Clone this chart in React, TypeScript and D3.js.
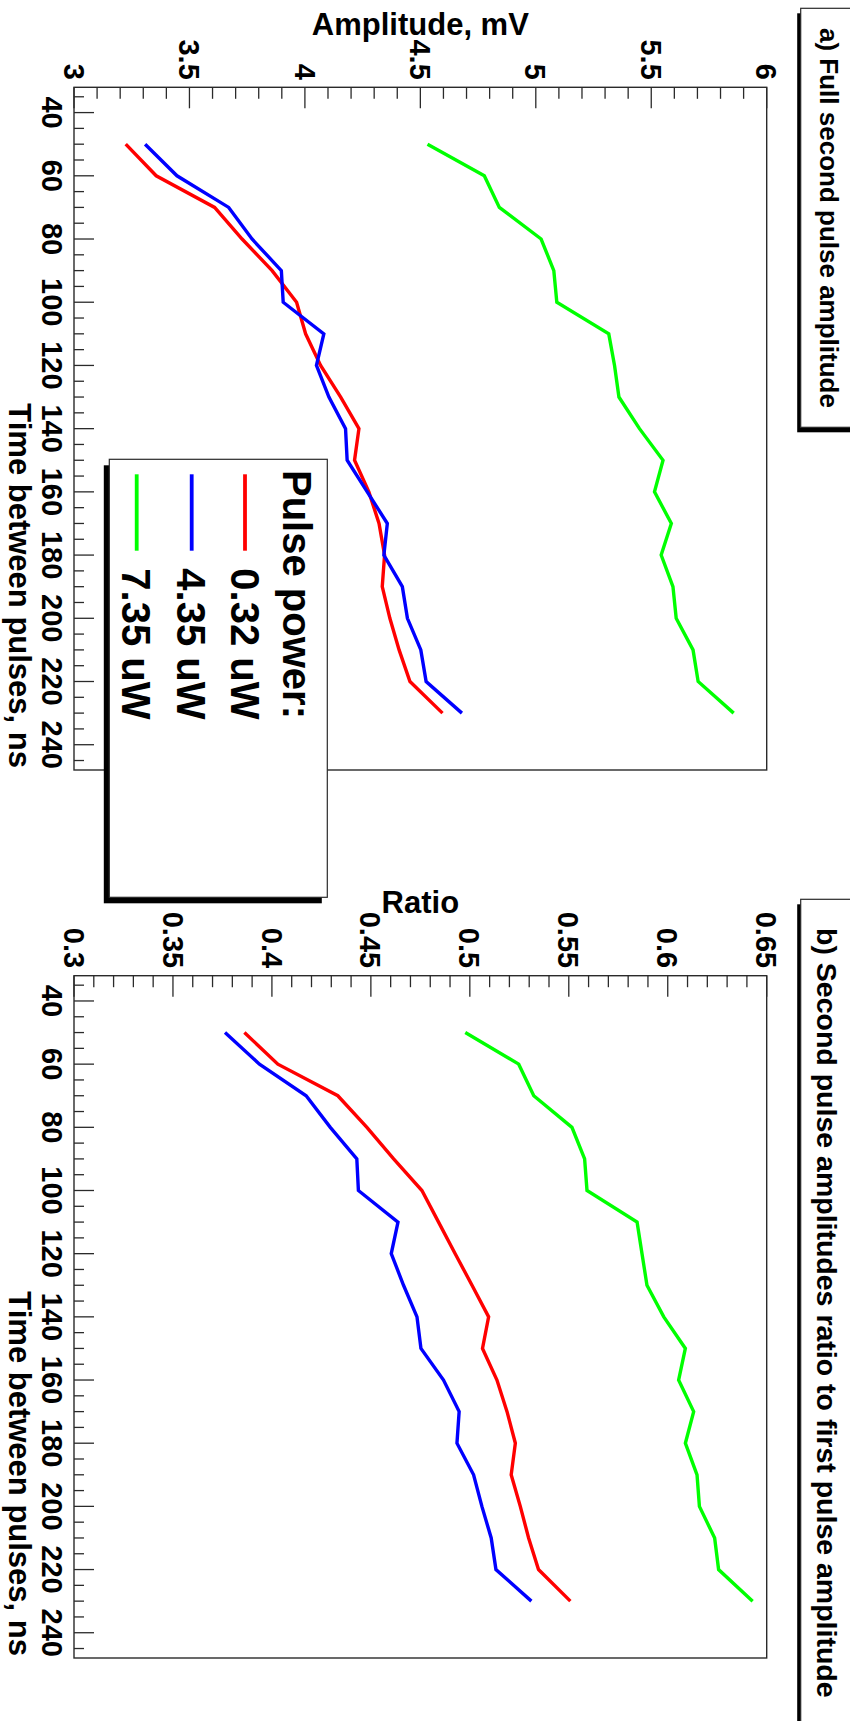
import React from "react";
import * as d3 from "d3";

// Delay between the two pulses, ns
const times = [50, 60, 70, 80, 90, 100, 110, 120, 130, 140, 150, 160, 170, 180, 190, 200, 210, 220, 230];

// a) Full second pulse amplitude, mV
const ampP032 = [3.224, 3.356, 3.609, 3.728, 3.858, 3.964, 4.003, 4.068, 4.155, 4.234, 4.215, 4.277, 4.321, 4.345, 4.335, 4.368, 4.408, 4.455, 4.596];
const ampP435 = [3.308, 3.446, 3.67, 3.771, 3.898, 3.906, 4.082, 4.05, 4.104, 4.176, 4.183, 4.27, 4.357, 4.342, 4.422, 4.444, 4.502, 4.525, 4.68];
const ampP735 = [4.531, 4.777, 4.842, 5.023, 5.078, 5.091, 5.316, 5.341, 5.36, 5.449, 5.551, 5.514, 5.587, 5.543, 5.594, 5.608, 5.681, 5.703, 5.857];

// b) Second-to-first pulse amplitude ratio
const ratioP032 = [0.3861, 0.403, 0.4333, 0.448, 0.4615, 0.4758, 0.4842, 0.4926, 0.5011, 0.5095, 0.5064, 0.5137, 0.5188, 0.523, 0.5209, 0.5255, 0.5297, 0.5347, 0.5508];
const ratioP435 = [0.3763, 0.3937, 0.4173, 0.4295, 0.4429, 0.4437, 0.4637, 0.4603, 0.4665, 0.4733, 0.4753, 0.4867, 0.4946, 0.4935, 0.5019, 0.5061, 0.5108, 0.5132, 0.5311];
const ratioP735 = [0.4977, 0.5247, 0.5323, 0.5516, 0.558, 0.5592, 0.5845, 0.587, 0.5895, 0.598, 0.6089, 0.6055, 0.6131, 0.6089, 0.6148, 0.616, 0.6237, 0.6257, 0.6429];

const powerLabels = ["0.32 uW", "4.35 uW", "7.35 uW"];
const powerColors = ["#ff0000", "#0000ff", "#00ff00"];
const legendHeader = "Pulse power:";

const timeTicks = [40, 60, 80, 100, 120, 140, 160, 180, 200, 220, 240];
const ampTicks = [3, 3.5, 4, 4.5, 5, 5.5, 6];
const ratioTicks = [0.3, 0.35, 0.4, 0.45, 0.5, 0.55, 0.6, 0.65];

const FONT = "'Liberation Sans', Arial, Helvetica, sans-serif";
// Landscape canvas, turned a quarter turn clockwise onto the portrait page
const W = 1721;
const H = 850;
const FRAME_TOP = 83.3;
const FRAME_BOTTOM = 776;
const INK = "#2a2a2a";

type PanelProps = {
  left: number;
  right: number;
  yDomain: [number, number];
  yTicks: number[];
  yMinorStep: number;
  yTitle: string;
  yTitleX: number;
  series: number[][];
  title: string;
  titleBox: [number, number];
  titleX: number;
  titleY: number;
  titleSize: number;
};

function Panel(p: PanelProps) {
  const x = d3.scaleLinear().domain([32, 248]).range([p.left, p.right]);
  const y = d3.scaleLinear().domain(p.yDomain).range([FRAME_BOTTOM, FRAME_TOP]);
  const line = d3
    .line<number>()
    .x((_, i) => x(times[i]))
    .y((v) => y(v));

  const timeMinor = d3.range(35, 246, 5).filter((t) => t % 20 !== 0);
  const yMinor = d3
    .range(p.yDomain[0], p.yDomain[1] + p.yMinorStep / 2, p.yMinorStep)
    .filter((v) => !p.yTicks.some((t) => Math.abs(t - v) < p.yMinorStep / 10));

  const [bx0, bx1] = p.titleBox;

  return (
    <g>
      {/* title box with shadow */}
      <rect x={bx0 + 5} y={-30} width={bx1 - bx0} height={49.3 + 30 + 3.5} fill="#000" />
      <rect x={bx0} y={-30} width={bx1 - bx0} height={49.3 + 30} fill="#fff" stroke={INK} strokeWidth={1.2} />
      <text x={p.titleX} y={p.titleY} fontFamily={FONT} fontWeight={700} fontSize={p.titleSize} fill="#000">
        {p.title}
      </text>

      {/* series */}
      {p.series.map((s, i) => (
        <path key={i} d={line(s) ?? ""} fill="none" stroke={powerColors[i]} strokeWidth={3.4} strokeLinejoin="miter" />
      ))}

      {/* frame */}
      <rect
        x={p.left}
        y={FRAME_TOP}
        width={p.right - p.left}
        height={FRAME_BOTTOM - FRAME_TOP}
        fill="none"
        stroke={INK}
        strokeWidth={1.4}
      />

      {/* time axis ticks */}
      {timeTicks.map((t) => (
        <line key={"tM" + t} x1={x(t)} x2={x(t)} y1={FRAME_BOTTOM} y2={FRAME_BOTTOM - 20} stroke={INK} strokeWidth={1.3} />
      ))}
      {timeMinor.map((t) => (
        <line key={"tm" + t} x1={x(t)} x2={x(t)} y1={FRAME_BOTTOM} y2={FRAME_BOTTOM - 10} stroke={INK} strokeWidth={1.3} />
      ))}
      {timeTicks.map((t) => (
        <text key={"tl" + t} x={x(t)} y={808} textAnchor="middle" fontFamily={FONT} fontWeight={700} fontSize={29} fill="#000">
          {t}
        </text>
      ))}
      <text x={p.right - 2} y={841.5} textAnchor="end" fontFamily={FONT} fontWeight={700} fontSize={31} fill="#000">
        Time between pulses, ns
      </text>

      {/* value axis ticks */}
      {p.yTicks.map((v) => (
        <line key={"yM" + v} x1={p.left} x2={p.left + 21} y1={y(v)} y2={y(v)} stroke={INK} strokeWidth={1.3} />
      ))}
      {yMinor.map((v) => (
        <line key={"ym" + v} x1={p.left} x2={p.left + 11.5} y1={y(v)} y2={y(v)} stroke={INK} strokeWidth={1.3} />
      ))}
      {p.yTicks.map((v) => (
        <text
          key={"yl" + v}
          x={p.left - 7.5}
          y={y(v) + 10.4}
          textAnchor="end"
          fontFamily={FONT}
          fontWeight={700}
          fontSize={29}
          fill="#000"
        >
          {String(v)}
        </text>
      ))}
      <text
        transform={`translate(${p.yTitleX},${(FRAME_TOP + FRAME_BOTTOM) / 2}) rotate(-90)`}
        textAnchor="middle"
        fontFamily={FONT}
        fontWeight={700}
        fontSize={31}
        fill="#000"
      >
        {p.yTitle}
      </text>
    </g>
  );
}

function Legend() {
  const bx = 459.3;
  const by = 522.7;
  const bw = 438;
  const bh = 218;
  const rows = [605, 658.3, 713.3];
  return (
    <g>
      <rect x={bx + 6} y={by + 5.5} width={bw} height={bh} fill="#000" />
      <rect x={bx} y={by} width={bw} height={bh} fill="#fff" stroke={INK} strokeWidth={1.2} />
      <text x={470} y={567} fontFamily={FONT} fontWeight={700} fontSize={40} fill="#000">
        {legendHeader}
      </text>
      {powerLabels.map((lab, i) => (
        <g key={lab}>
          <line x1={474.3} x2={550.7} y1={rows[i]} y2={rows[i]} stroke={powerColors[i]} strokeWidth={3.8} />
          <text x={568.3} y={rows[i] + 14.5} fontFamily={FONT} fontWeight={700} fontSize={40} fill="#000">
            {lab}
          </text>
        </g>
      ))}
    </g>
  );
}

export default function App() {
  return (
    <svg
      width={H}
      height={W}
      viewBox={`0 0 ${H} ${W}`}
      style={{ position: "absolute", left: 0, top: 0, display: "block", background: "#fff" }}
    >
      <rect x={0} y={0} width={H} height={W} fill="#fff" />
      <g transform={`translate(${H},0) rotate(90)`}>
        <Panel
          left={87.3}
          right={770}
          yDomain={[3, 6]}
          yTicks={ampTicks}
          yMinorStep={0.1}
          yTitle="Amplitude, mV"
          yTitleX={35}
          series={[ampP032, ampP435, ampP735]}
          title="a) Full second pulse amplitude"
          titleBox={[8.3, 427.3]}
          titleX={28}
          titleY={30}
          titleSize={26}
        />
        <Panel
          left={975.7}
          right={1658}
          yDomain={[0.3, 0.65]}
          yTicks={ratioTicks}
          yMinorStep={0.01}
          yTitle="Ratio"
          yTitleX={913}
          series={[ratioP032, ratioP435, ratioP735]}
          title="b) Second pulse amplitudes ratio to first pulse amplitude"
          titleBox={[899.3, 1760]}
          titleX={928}
          titleY={33.3}
          titleSize={28.5}
        />
        <Legend />
      </g>
    </svg>
  );
}
